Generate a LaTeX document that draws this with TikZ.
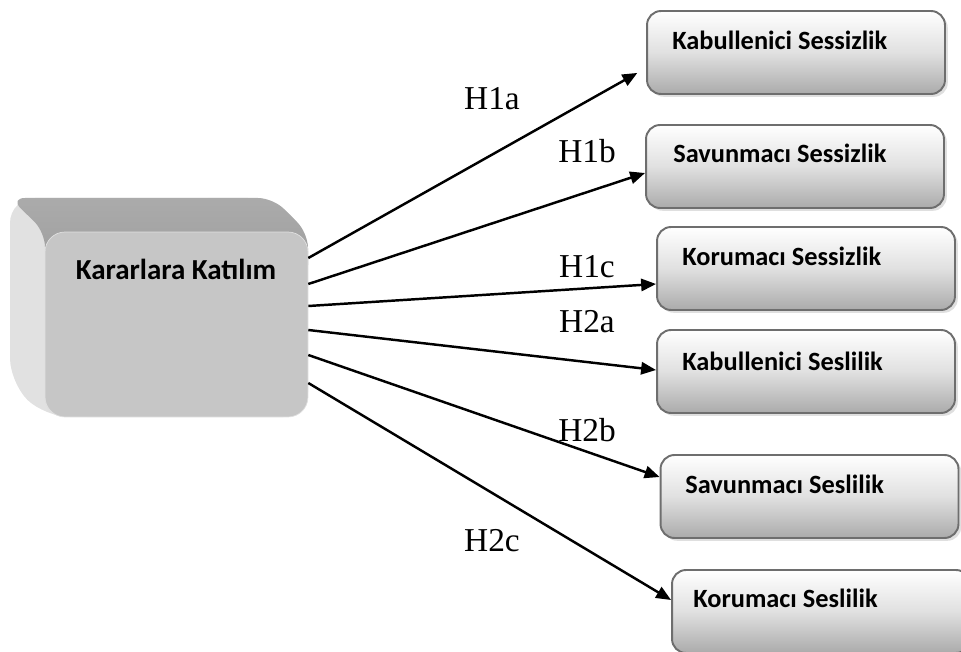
\documentclass[tikz,border=0pt]{standalone}
\usepackage{fontspec}
\setmainfont{Liberation Serif}
\newfontfamily\calfont{Carlito}
\usetikzlibrary{arrows.meta,shadows}

\definecolor{kenar}{HTML}{6E6E6E}
\definecolor{ust}{HTML}{9C9C9C}
\definecolor{yan}{HTML}{DADADA}
\definecolor{yuz}{HTML}{C6C6C6}

\begin{document}
\begin{tikzpicture}[x=0.02cm,y=-0.02cm,
  kutu/.style={draw=kenar,line width=1.1pt,rounded corners=0.28cm,
    top color=white,bottom color=ust!85,middle color=black!12,
    minimum width=5.96cm,minimum height=1.66cm,
    drop shadow={shadow xshift=1.6pt,shadow yshift=-1.6pt,fill=black!25}},
  yazi/.style={anchor=base west,inner sep=0pt,font=\calfont\bfseries\fontsize{15}{18}\selectfont},
  hipotez/.style={anchor=base,inner sep=0pt,font=\fontsize{19}{22}\selectfont},
  ok/.style={line width=1.4pt,-{Triangle[length=8.5pt,width=7pt]}}]
\useasboundingbox (0,0) rectangle (961,652);

%Kararlara Katilim kutusu
\shade[left color=yan!80,right color=yan,rounded corners=0.5cm] (10,198) -- (273,198) -- (308,232) -- (308,417) -- (45,417) -- (10,383) -- cycle;
\shade[top color=ust!85,bottom color=ust,rounded corners=0.3cm] (10,198) -- (273,198) -- (308,233) -- (308,280) -- (45,280) -- (45,232) -- cycle;
\node[fill=yuz,draw=black!12,rounded corners=0.4cm,minimum width=5.26cm,minimum height=3.7cm] (kk) at (176.5,324.5) {};
\node[anchor=base,inner sep=0pt,font=\calfont\bfseries\fontsize{16.5}{20}\selectfont] (kkyazi) at (176,279) {Kararlara Katılım};

%Sessizlik / Seslilik kutulari
\node[kutu] (s1) at (796,52.5) {};
\node[kutu] (s2) at (795,166.5) {};
\node[kutu] (s3) at (806,268.5) {};
\node[kutu] (s4) at (806,371.5) {};
\node[kutu] (s5) at (809.5,496.5) {};
\node[kutu] (s6) at (821,611.5) {};

\node[yazi] (t1) at (672,50) {Kabullenici Sessizlik};
\node[yazi] (t2) at (673,163) {Savunmacı Sessizlik};
\node[yazi] (t3) at (682,265) {Korumacı Sessizlik};
\node[yazi] (t4) at (682,370) {Kabullenici Seslilik};
\node[yazi] (t5) at (685,493) {Savunmacı Seslilik};
\node[yazi] (t6) at (693,607) {Korumacı Seslilik};

%Oklar
\draw[ok,shorten >=10*0.02cm] (kk.east |- 0,258) -- (s1.west |- 0,68);
\draw[ok] (kk.east |- 0,284) -- (s2.west |- 0,173);
\draw[ok] (kk.east |- 0,306) -- (s3.west |- 0,284);
\draw[ok] (kk.east |- 0,330) -- (s4.west |- 0,370);
\draw[ok] (kk.east |- 0,355) -- (s5.west |- 0,477);
\draw[ok] (kk.east |- 0,383) -- (s6.west |- 0,600);

%Hipotezler
\node[hipotez] (h1a) at (492,110) {H1a};
\node[hipotez] (h1b) at (587,163) {H1b};
\node[hipotez] (h1c) at (587,277) {H1c};
\node[hipotez] (h2a) at (587,332) {H2a};
\node[hipotez] (h2b) at (587,441) {H2b};
\node[hipotez] (h2c) at (492,551) {H2c};

\end{tikzpicture}
\end{document}
